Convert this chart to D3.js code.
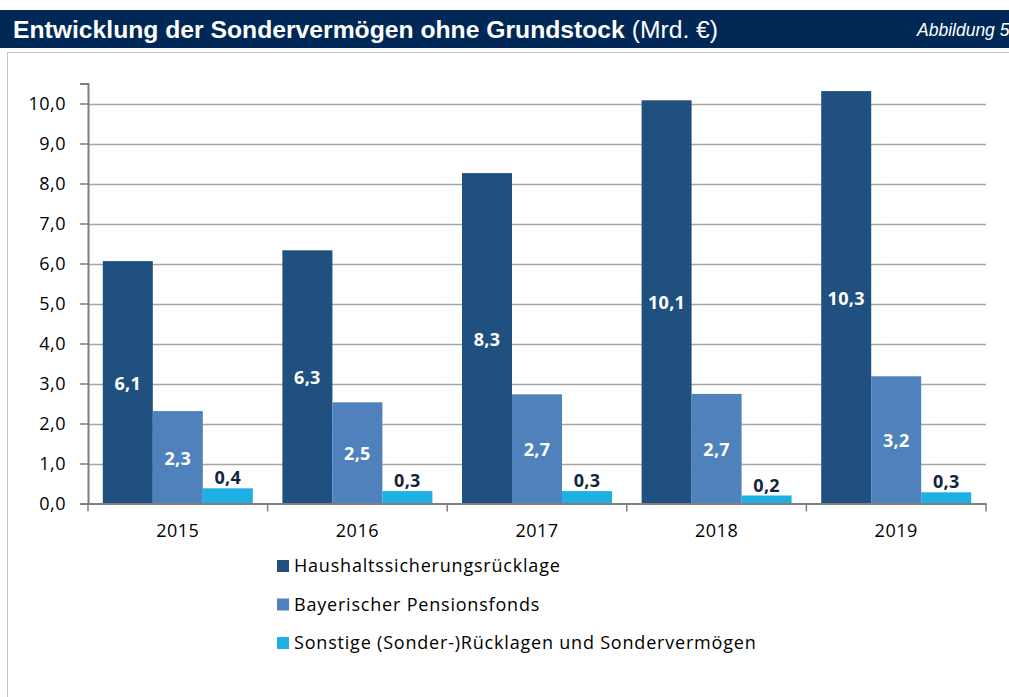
<!DOCTYPE html>
<meta charset="utf-8">
<style>
	body { margin: 0; background: #fff; }
	.tick text { font: 18px "Open Sans", sans-serif; fill: #000; letter-spacing: 0.5px; }
	.label { font: bold 18px "Open Sans", sans-serif; text-anchor: middle; letter-spacing: 0.3px; }
	.legend text { font: 18px "Open Sans", sans-serif; fill: #000; letter-spacing: 0.8px; }
</style>
<body>
<script src="https://d3js.org/d3.v7.min.js"></script>
<script>

	var years = ["2015", "2016", "2017", "2018", "2019"];
	var seriesNames = ["Haushaltssicherungsrücklage", "Bayerischer Pensionsfonds", "Sonstige (Sonder-)Rücklagen und Sondervermögen"];
	var haushalt = [6.06, 6.33, 8.26, 10.08, 10.31];
	var pension = [2.31, 2.53, 2.73, 2.74, 3.18];
	var sonstige = [0.38, 0.31, 0.31, 0.2, 0.28];
	var yTicks = [0, 1, 2, 3, 4, 5, 6, 7, 8, 9, 10];

	var series = [haushalt, pension, sonstige];
	var colors = ["#1f5080", "#4f81bd", "#1cb0e4"];

	var width = 1009,
		height = 697;

	var de = d3.formatLocale({ decimal: ",", thousands: ".", grouping: [3], currency: ["", " €"] });
	var fmt = de.format(".1f");

	var svg = d3.select("body").append("svg")
		.attr("width", width)
		.attr("height", height);

	// header
	svg.append("rect")
		.attr("x", 0).attr("y", 10)
		.attr("width", width).attr("height", 38)
		.attr("fill", "#002856");

	var title = svg.append("text")
		.attr("x", 13).attr("y", 37.5)
		.style("font", "bold 24.7px 'Liberation Sans', Arial, sans-serif")
		.attr("fill", "#fff");
	title.append("tspan").text("Entwicklung der Sondervermögen ohne Grundstock");
	title.append("tspan").style("font-weight", "normal").text(" (Mrd. €)");

	svg.append("text")
		.attr("x", 917).attr("y", 36)
		.style("font", "italic 17.5px 'Liberation Sans', Arial, sans-serif")
		.attr("fill", "#fff")
		.text("Abbildung 5");

	// frame
	svg.append("rect")
		.attr("x", 7.5).attr("y", 52.5)
		.attr("width", width + 10).attr("height", height)
		.attr("fill", "none")
		.attr("stroke", "#d3bccb");

	var x0 = d3.scaleBand()
		.domain(years)
		.range([88, 986]);

	var x1 = d3.scaleBand()
		.domain([0, 1, 2])
		.range([14.8, x0.bandwidth() - 14.8]);

	var y = d3.scaleLinear()
		.domain([0, 10.5])
		.range([503.5, 83.5]);

	// grid
	svg.append("g")
		.selectAll("line")
		.data(yTicks.slice(1))
		.enter().append("line")
		.attr("x1", 88).attr("x2", 986)
		.attr("y1", function(d) { return Math.round(y(d)) + 0.5; })
		.attr("y2", function(d) { return Math.round(y(d)) + 0.5; })
		.attr("stroke", "#a6a6a6")
		.attr("stroke-width", 1.5);

	// bars
	var groups = svg.append("g")
		.selectAll("g")
		.data(years)
		.enter().append("g")
		.attr("transform", function(d) { return "translate(" + x0(d) + ",0)"; });

	series.forEach(function(vals, s) {
		groups.append("rect")
			.attr("x", x1(s))
			.attr("width", x1.bandwidth())
			.attr("y", function(d, i) { return y(vals[i]); })
			.attr("height", function(d, i) { return y(0) - y(vals[i]); })
			.attr("fill", colors[s]);

		groups.append("text")
			.attr("class", "label")
			.attr("x", x1(s) + x1.bandwidth() / 2)
			.attr("y", function(d, i) {
				return s < 2 ? (y(vals[i]) + y(0)) / 2 + 7.5 : y(vals[i]) - 4;
			})
			.attr("fill", s < 2 ? "#fff" : "#14243c")
			.text(function(d, i) { return fmt(vals[i]); });
	});

	// y axis
	var yAxis = svg.append("g")
		.attr("transform", "translate(88,0)")
		.call(d3.axisLeft(y).tickValues(yTicks).tickFormat(fmt).tickSize(8).tickPadding(14));
	yAxis.select(".domain").attr("stroke", "#7f7f7f").attr("stroke-width", 2);
	yAxis.selectAll(".tick line").attr("stroke", "#7f7f7f").attr("stroke-width", 1.5);
	yAxis.selectAll(".tick text").attr("dy", null).attr("y", 6);

	// x axis
	var xAxis = svg.append("g")
		.attr("transform", "translate(0," + y(0) + ")")
		.call(d3.axisBottom(x0).tickSize(0));
	xAxis.select(".domain").attr("stroke", "#7f7f7f").attr("stroke-width", 2);
	xAxis.selectAll(".tick text").attr("dy", null).attr("y", 33.5);
	xAxis.append("g")
		.selectAll("line")
		.data(years.concat(["end"]))
		.enter().append("line")
		.attr("x1", function(d, i) { return 88 + i * x0.bandwidth(); })
		.attr("x2", function(d, i) { return 88 + i * x0.bandwidth(); })
		.attr("y1", 0).attr("y2", 8)
		.attr("stroke", "#7f7f7f")
		.attr("stroke-width", 1.5);

	// legend
	var legend = svg.selectAll(".legend")
		.data(seriesNames)
		.enter().append("g")
		.attr("class", "legend")
		.attr("transform", function(d, i) { return "translate(277," + (560 + i * 38.5) + ")"; });

	legend.append("rect")
		.attr("width", 12).attr("height", 12)
		.attr("fill", function(d, i) { return colors[i]; });

	legend.append("text")
		.attr("x", 17).attr("y", 12)
		.text(function(d) { return d; });
</script>
